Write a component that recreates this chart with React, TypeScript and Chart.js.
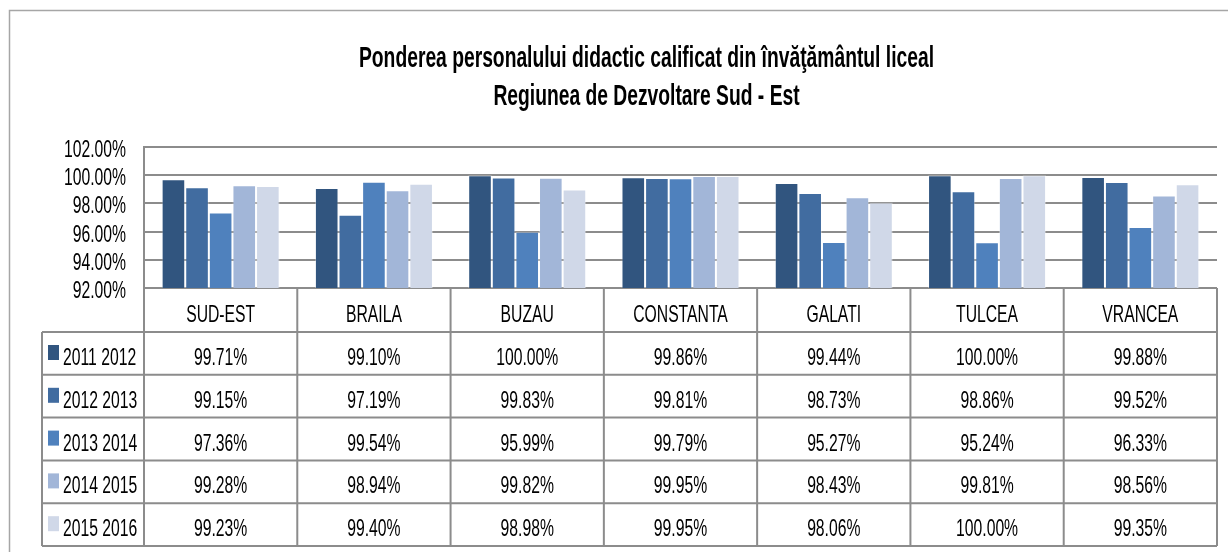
import React, { useEffect, useRef } from "react";
import { Chart, registerables } from "chart.js";

Chart.register(...registerables);

const titleLines = [
  "Ponderea personalului didactic calificat din învăţământul liceal",
  "Regiunea de Dezvoltare Sud - Est",
];
const categories = ["SUD-EST", "BRAILA", "BUZAU", "CONSTANTA", "GALATI", "TULCEA", "VRANCEA"];
const seriesLabels = ["2011 2012", "2012 2013", "2013 2014", "2014 2015", "2015 2016"];
const s2011_2012 = [99.71, 99.1, 100.0, 99.86, 99.44, 100.0, 99.88];
const s2012_2013 = [99.15, 97.19, 99.83, 99.81, 98.73, 98.86, 99.52];
const s2013_2014 = [97.36, 99.54, 95.99, 99.79, 95.27, 95.24, 96.33];
const s2014_2015 = [99.28, 98.94, 99.82, 99.95, 98.43, 99.81, 98.56];
const s2015_2016 = [99.23, 99.4, 98.98, 99.95, 98.06, 100.0, 99.35];
const yTicks = [92, 94, 96, 98, 100, 102];

const seriesValues = [s2011_2012, s2012_2013, s2013_2014, s2014_2015, s2015_2016];
const colors = ["#31557F", "#416CA0", "#4F81BD", "#A2B6D8", "#D0D8E8"];
const FAMILY = '"Liberation Sans", Arial, sans-serif';
const LINE = "#8C8C8C";
const TEXT_FONT = `24px ${FAMILY}`;
const TEXT_SX = 0.655;

const fmt = (v: number) => v.toFixed(2) + "%";

function drawText(
  ctx: CanvasRenderingContext2D,
  text: string,
  x: number,
  y: number,
  font: string,
  sx: number,
  align: CanvasTextAlign
) {
  ctx.save();
  ctx.translate(x, y);
  ctx.scale(sx, 1);
  ctx.font = font;
  ctx.textAlign = align;
  ctx.textBaseline = "alphabetic";
  ctx.fillStyle = "#000";
  ctx.fillText(text, 0, 0);
  ctx.restore();
}

const tablePlugin = {
  id: "tablePlugin",
  afterDraw(chart: any) {
    const ctx: CanvasRenderingContext2D = chart.ctx;
    const area = chart.chartArea;
    const x = chart.scales.x;
    const y = chart.scales.y;
    ctx.save();

    // outer frame
    ctx.strokeStyle = "#A6A6A6";
    ctx.lineWidth = 1.5;
    ctx.beginPath();
    ctx.moveTo(9.5, chart.height);
    ctx.lineTo(9.5, 10.5);
    ctx.lineTo(chart.width, 10.5);
    ctx.stroke();

    // title
    const titleFont = `bold 30px ${FAMILY}`;
    ctx.font = titleFont;
    const w1 = ctx.measureText(titleLines[0]).width;
    const tsx = 575 / w1;
    drawText(ctx, titleLines[0], 646.5, 66.5, titleFont, tsx, "center");
    drawText(ctx, titleLines[1], 646.5, 105, titleFont, tsx, "center");

    // y tick labels
    yTicks.forEach((v) => {
      drawText(ctx, fmt(v), area.left - 18, y.getPixelForValue(v) + 10, TEXT_FONT, TEXT_SX, "right");
    });

    // table geometry
    const n = categories.length;
    const colW = (area.right - area.left) / n;
    const top = area.bottom;
    const headerH = 44;
    const rowH = 42.8;
    const legendLeft = 42;
    const bottom = top + headerH + rowH * seriesLabels.length;

    ctx.strokeStyle = LINE;
    ctx.lineWidth = 2;
    ctx.beginPath();
    for (let i = 0; i <= n; i++) {
      const xx = area.left + colW * i;
      ctx.moveTo(xx, top);
      ctx.lineTo(xx, bottom);
    }
    ctx.moveTo(legendLeft, top + headerH);
    ctx.lineTo(legendLeft, bottom);
    for (let r = 0; r <= seriesLabels.length; r++) {
      const yy = top + headerH + rowH * r;
      ctx.moveTo(legendLeft, yy);
      ctx.lineTo(area.right, yy);
    }
    ctx.stroke();

    categories.forEach((c, i) => {
      drawText(ctx, c, x.getPixelForValue(i), top + 33.5, TEXT_FONT, TEXT_SX, "center");
    });

    seriesLabels.forEach((lab, r) => {
      const rowTop = top + headerH + rowH * r;
      ctx.fillStyle = colors[r];
      ctx.fillRect(legendLeft + 6, rowTop + 13, 11, 15);
      drawText(ctx, lab, legendLeft + 21, rowTop + 33, TEXT_FONT, TEXT_SX, "left");
      seriesValues[r].forEach((v, i) => {
        drawText(ctx, fmt(v), x.getPixelForValue(i), rowTop + 33, TEXT_FONT, TEXT_SX, "center");
      });
    });

    ctx.restore();
  },
};

export default function App() {
  const ref = useRef<HTMLCanvasElement | null>(null);

  useEffect(() => {
    document.body.style.margin = "0";
    if (!ref.current) return;
    const chart = new Chart(ref.current, {
      type: "bar",
      data: {
        labels: categories,
        datasets: seriesLabels.map((label, i) => ({
          label,
          data: seriesValues[i],
          backgroundColor: colors[i],
          borderColor: "rgba(255,255,255,0.35)",
          borderWidth: 1,
          categoryPercentage: 0.77,
          barPercentage: 1.0,
        })),
      },
      options: {
        responsive: false,
        animation: false,
        layout: { padding: { left: 0, right: 11, top: 147, bottom: 264 } },
        plugins: {
          legend: { display: false },
          title: { display: false },
          tooltip: { enabled: false },
        },
        scales: {
          x: { display: false },
          y: {
            min: 92,
            max: 102,
            afterBuildTicks: (scale: any) => {
              scale.ticks = yTicks.map((v) => ({ value: v }));
            },
            afterFit: (scale: any) => {
              scale.width = 144;
            },
            grid: { color: LINE, lineWidth: 2, drawTicks: false },
            border: { display: true, color: LINE, width: 2 },
            ticks: { display: false },
          },
        },
      },
      plugins: [tablePlugin],
    });
    return () => chart.destroy();
  }, []);

  return <canvas ref={ref} width={1228} height={552} style={{ display: "block" }} />;
}
